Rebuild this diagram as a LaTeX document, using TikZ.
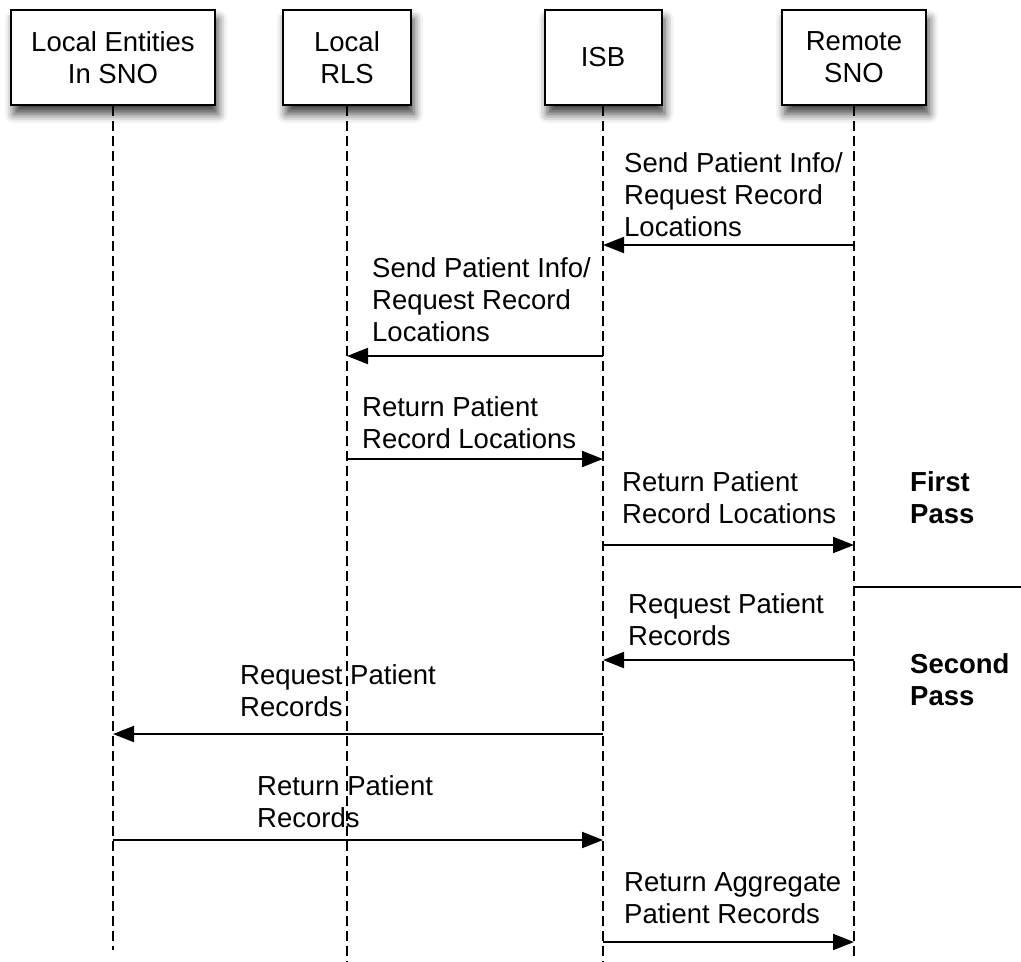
\documentclass[tikz,border=0pt]{standalone}
\usepackage{fontspec}
\setmainfont{Liberation Sans}
\usetikzlibrary{arrows.meta,shadows.blur}
\begin{document}
\begin{tikzpicture}[x=1pt,y=-1pt,
  font=\fontsize{27.5}{32}\selectfont,
  actor/.style={draw,line width=2pt,fill=white,align=center,inner sep=0pt,
    minimum height=95pt,
    blur shadow={shadow xshift=3pt,shadow yshift=-9pt,shadow blur radius=9pt,shadow opacity=75}},
  life/.style={line width=1.6pt,dash pattern=on 10pt off 5pt},
  msg/.style={line width=2pt,-{Triangle[length=21pt,width=16pt]}},
  lbl/.style={align=left,inner sep=0pt,anchor=base west},
  pass/.style={align=left,inner sep=0pt,anchor=base west,font=\fontsize{27.5}{32}\selectfont\bfseries}]
\useasboundingbox (0,0) rectangle (1021,962);
\node[actor,minimum width=204pt] (le) at (113,57.5) {Local Entities\\In SNO};
\node[actor,minimum width=128pt] (rls) at (347,57.5) {Local\\RLS};
\node[actor,minimum width=117pt] (isb) at (603,57.5) {ISB};
\node[actor,minimum width=144pt] (rsno) at (854,57.5) {Remote\\SNO};
% lifelines
\coordinate (leE) at (113,950);
\coordinate (rlsE) at (347,962);
\coordinate (isbE) at (603,962);
\coordinate (rsnoE) at (854,960);
\draw[life] (le.south) -- (leE);
\draw[life] (rls.south) -- (rlsE);
\draw[life] (isb.south) -- (isbE);
\draw[life] (rsno.south) -- (rsnoE);
% messages (label anchors = baseline of last line)
\draw[msg] (rsno |- 0,245) -- (isb |- 0,245);
\node[lbl] (l1) at (624,236) {Send Patient Info/\\Request Record\\Locations};
\draw[msg] (isb |- 0,356) -- (rls |- 0,356);
\node[lbl] (l2) at (372,341) {Send Patient Info/\\Request Record\\Locations};
\draw[msg] (rls |- 0,459) -- (isb |- 0,459);
\node[lbl] (l3) at (362,448) {Return Patient\\Record Locations};
\draw[msg] (isb |- 0,545) -- (rsno |- 0,545);
\node[lbl] (l4) at (622,523) {Return Patient\\Record Locations};
\coordinate (sepE) at (1021,587);
\draw[line width=2.5pt] (rsno |- 0,587) -- (sepE);
\draw[msg] (rsno |- 0,660) -- (isb |- 0,660);
\node[lbl] (l5) at (628,645) {Request Patient\\Records};
\draw[msg] (isb |- 0,734) -- (le |- 0,734);
\node[lbl] (l6) at (240,716) {Request Patient\\Records};
\draw[msg] (le |- 0,840) -- (isb |- 0,840);
\node[lbl] (l7) at (257,827) {Return Patient\\Records};
\draw[msg] (isb |- 0,942) -- (rsno |- 0,942);
\node[lbl] (l8) at (624,923) {Return Aggregate\\Patient Records};
\node[pass] (p1) at (910,523) {First\\Pass};
\node[pass] (p2) at (910,705) {Second\\Pass};
\end{tikzpicture}
\end{document}
